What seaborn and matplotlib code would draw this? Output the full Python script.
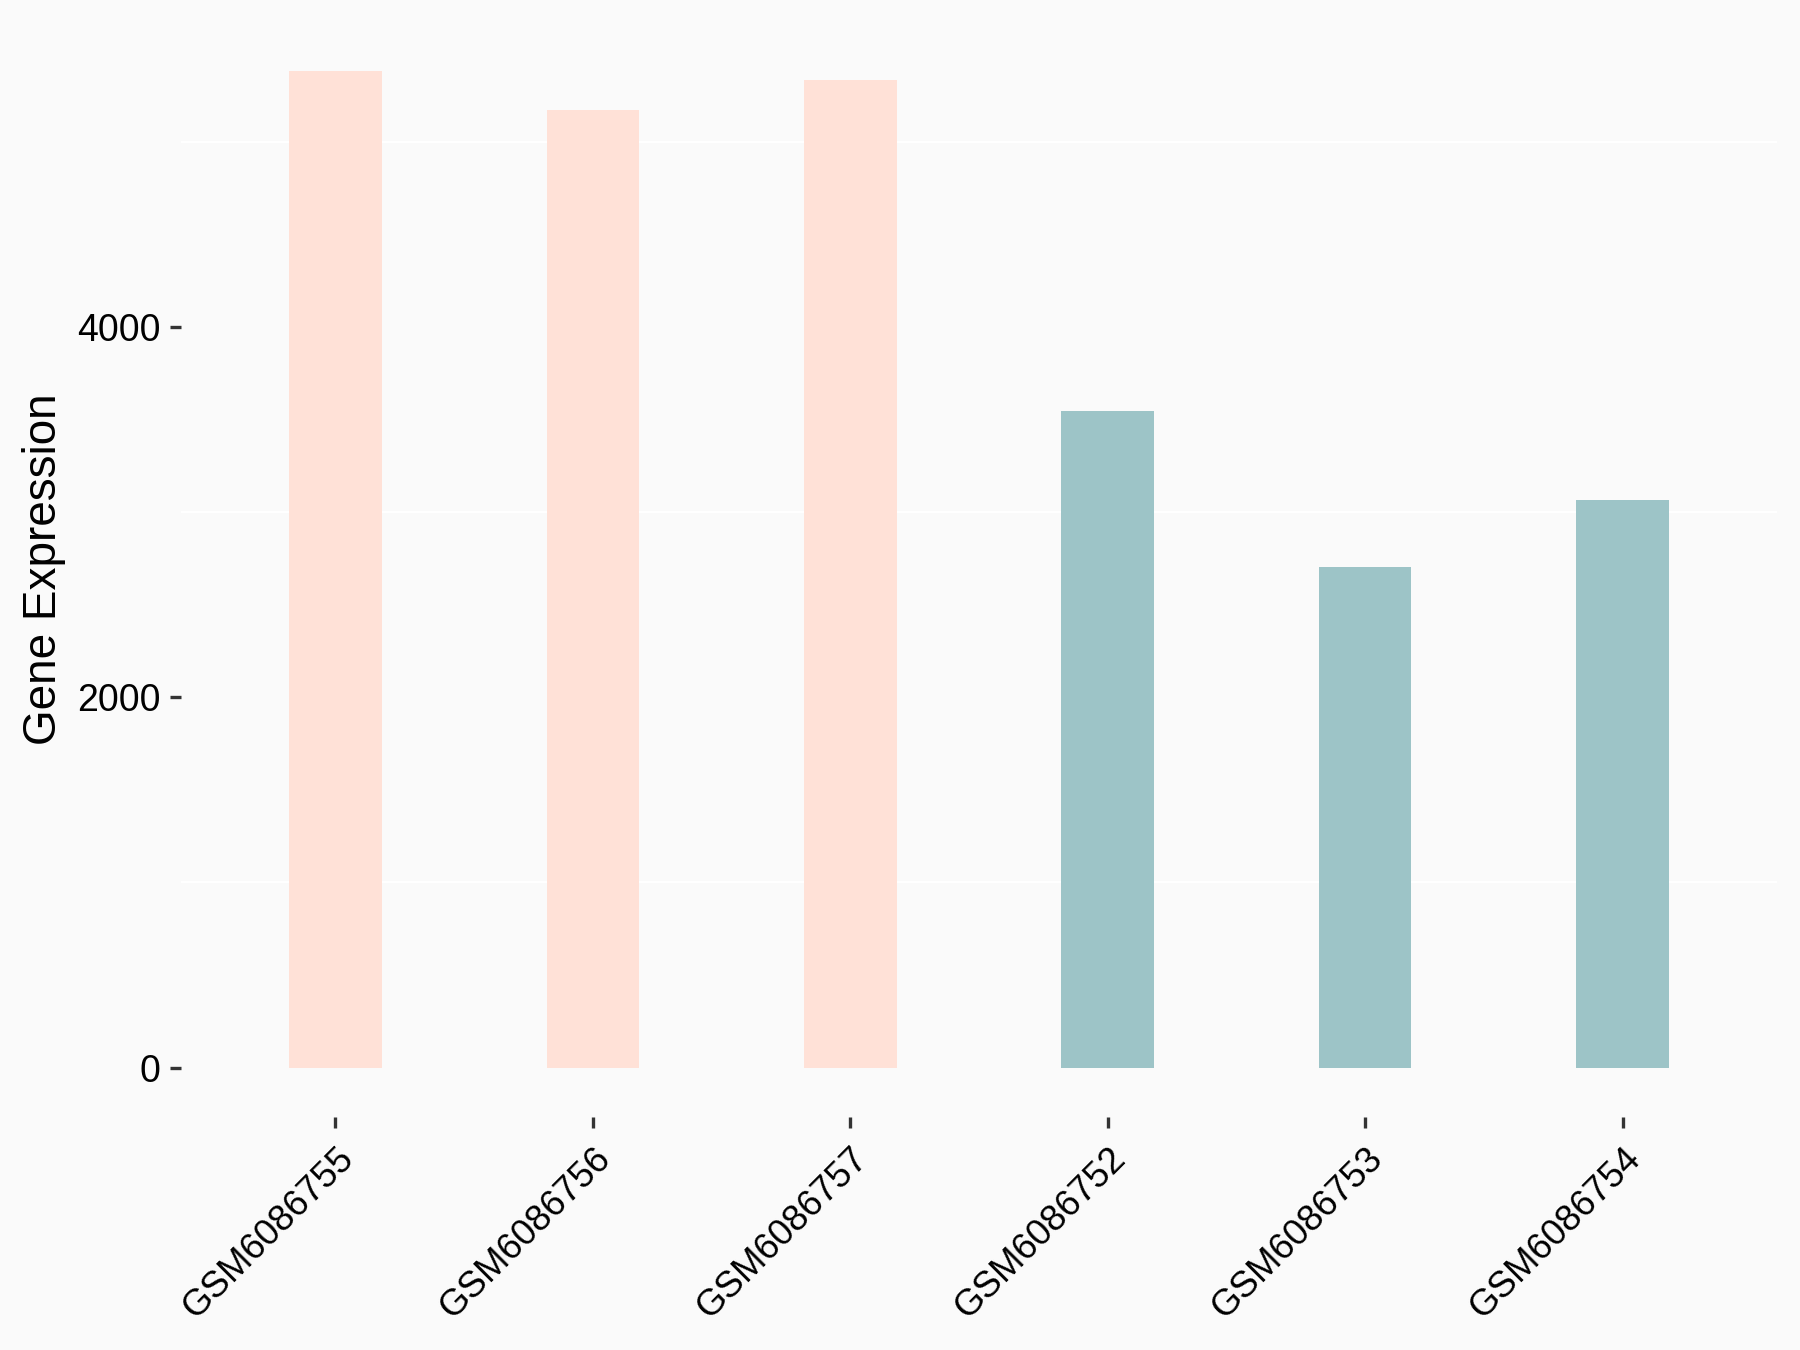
import matplotlib
matplotlib.use("Agg")
import matplotlib.pyplot as plt
import seaborn as sns
import pandas as pd

samples = ["GSM6086755", "GSM6086756", "GSM6086757", "GSM6086752", "GSM6086753", "GSM6086754"]
values = [5382, 5174, 5336, 3549, 2704, 3065]
groups = ["A", "A", "A", "B", "B", "B"]
palette = {"A": "#FFE1D7", "B": "#9DC4C7"}
y_ticks = [0, 2000, 4000]
y_minor = [1000, 3000, 5000]

df = pd.DataFrame({"sample": samples, "value": values, "group": groups})

sns.set_theme(style="white")
plt.rcParams["font.family"] = ["Liberation Sans", "DejaVu Sans"]

bg = "#FAFAFA"
fig = plt.figure(figsize=(6, 4.5), dpi=300, facecolor=bg)
ax = fig.add_axes([181 / 1800, 1 - 1117.4 / 1350, (1777 - 181) / 1800, (1117.4 - 21.6) / 1350])
ax.set_facecolor(bg)

sns.barplot(data=df, x="sample", y="value", hue="group", palette=palette,
            order=samples, dodge=False, width=0.36, legend=False, ax=ax,
            saturation=1, linewidth=0, zorder=3)

ymax = max(values)
ax.set_ylim(-0.05 * ymax, 1.05 * ymax)
ax.set_xlim(-0.6, len(samples) - 0.4)

ax.set_yticks(y_ticks)
ax.set_yticklabels([str(t) for t in y_ticks])
ax.set_yticks(y_minor, minor=True)
ax.grid(False)
ax.yaxis.grid(True, which="minor", color="white", linewidth=0.5, zorder=0)
ax.set_axisbelow(True)

for s in ax.spines.values():
    s.set_visible(False)

ax.tick_params(axis="both", which="major", length=2.75, width=0.8, color="#333333",
               labelcolor="black", pad=2.2, direction="out",
               bottom=True, left=True)
ax.tick_params(axis="y", which="major", labelsize=9)
ax.tick_params(axis="y", which="minor", length=0, left=False)
ax.tick_params(axis="x", which="major", pad=3.0, labelsize=8.8)

for lab in ax.get_xticklabels():
    lab.set_rotation(45)
    lab.set_ha("right")
    lab.set_va("top")
    lab.set_rotation_mode("anchor")

ax.set_xlabel("")
ax.set_ylabel("Gene Expression", fontsize=11, color="black", labelpad=2.5)

fig.savefig("out.png", dpi=300, facecolor=bg)
